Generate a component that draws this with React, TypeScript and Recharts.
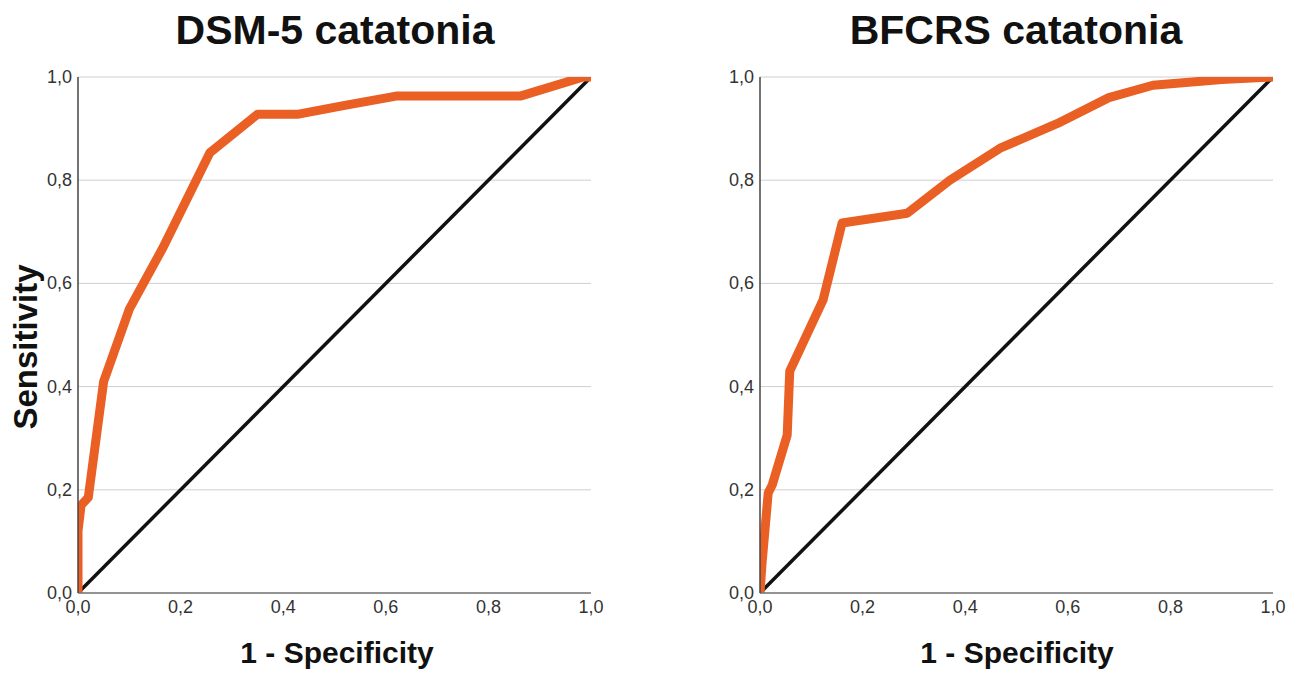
import React from 'react';
import { LineChart, Line, XAxis, YAxis, CartesianGrid } from 'recharts';

// ROC points: x = 1 - specificity, y = sensitivity
const dsmFpr = [0, 0, 0.006, 0.02, 0.05, 0.1, 0.166, 0.257, 0.35, 0.43, 0.52, 0.62, 0.862, 0.985, 1];
const dsmTpr = [0, 0.12, 0.17, 0.185, 0.41, 0.55, 0.67, 0.853, 0.928, 0.928, 0.945, 0.963, 0.963, 1, 1];

const bfcrsFpr = [0, 0.004, 0.016, 0.024, 0.053, 0.058, 0.123, 0.16, 0.287, 0.37, 0.468, 0.58, 0.68, 0.766, 0.9, 1];
const bfcrsTpr = [0, 0.058, 0.194, 0.21, 0.306, 0.43, 0.568, 0.717, 0.736, 0.8, 0.862, 0.91, 0.96, 0.984, 0.995, 1];

const refFpr = [0, 1];
const refTpr = [0, 1];

const ticks = [0, 0.2, 0.4, 0.6, 0.8, 1];

const toPoints = (xs: number[], ys: number[]) => xs.map((x, i) => ({ x, y: ys[i] }));

const fmt = (v: number) => v.toFixed(1).replace('.', ',');

const FONT = '"Liberation Sans", Arial, Helvetica, sans-serif';
const ORANGE = '#e95f24';

const XTick = (props: any) => {
    const { x, y, payload } = props;
    return (
        <text x={x} y={y + 18} textAnchor="middle" fill="#333" fontSize={18} fontFamily={FONT}>
            {fmt(payload.value)}
        </text>
    );
};

const YTick = (props: any) => {
    const { x, y, payload } = props;
    return (
        <text x={x + 2} y={y + 6} textAnchor="end" fill="#333" fontSize={18} fontFamily={FONT}>
            {fmt(payload.value)}
        </text>
    );
};

const RocPanel = ({ fpr, tpr, width, right }: { fpr: number[]; tpr: number[]; width: number; right: number }) => (
    <LineChart width={width} height={673} margin={{ top: 77, right, left: 0, bottom: 50 }}>
        <CartesianGrid vertical={false} stroke="#cfcfcf" strokeWidth={1} />
        <XAxis
            type="number"
            dataKey="x"
            domain={[0, 1]}
            ticks={ticks}
            tickLine={false}
            tickSize={0}
            height={30}
            axisLine={{ stroke: '#777', strokeWidth: 1.5 }}
            tick={<XTick />}
            allowDataOverflow
        />
        <YAxis
            type="number"
            dataKey="y"
            domain={[0, 1]}
            ticks={ticks}
            tickLine={false}
            tickSize={6}
            width={78}
            axisLine={{ stroke: '#444', strokeWidth: 1.5 }}
            tick={<YTick />}
            allowDataOverflow
        />
        <Line
            data={toPoints(refFpr, refTpr)}
            dataKey="y"
            type="linear"
            stroke="#111"
            strokeWidth={3.5}
            dot={false}
            isAnimationActive={false}
        />
        <Line
            data={toPoints(fpr, tpr)}
            dataKey="y"
            type="linear"
            stroke={ORANGE}
            strokeWidth={9}
            strokeLinejoin="round"
            dot={false}
            isAnimationActive={false}
        />
    </LineChart>
);

const textStyle: React.CSSProperties = {
    position: 'absolute',
    fontFamily: FONT,
    fontWeight: 'bold',
    color: '#111',
    whiteSpace: 'nowrap',
    transform: 'translate(-50%, -50%)',
};

export default function App() {
    return (
        <div style={{ position: 'absolute', left: 0, top: 0, width: 1295, height: 673, background: '#fff', overflow: 'hidden' }}>
            <div style={{ position: 'absolute', left: 0, top: 0 }}>
                <RocPanel fpr={dsmFpr} tpr={dsmTpr} width={640} right={49} />
            </div>
            <div style={{ position: 'absolute', left: 682, top: 0 }}>
                <RocPanel fpr={bfcrsFpr} tpr={bfcrsTpr} width={613} right={22} />
            </div>

            <div style={{ ...textStyle, left: 335, top: 30, fontSize: 41 }}>DSM-5 catatonia</div>
            <div style={{ ...textStyle, left: 1016, top: 30, fontSize: 41 }}>BFCRS catatonia</div>

            <div style={{ ...textStyle, left: 337, top: 653, fontSize: 30 }}>1 - Specificity</div>
            <div style={{ ...textStyle, left: 1017, top: 653, fontSize: 30 }}>1 - Specificity</div>

            <div style={{ ...textStyle, left: 26, top: 347, fontSize: 33, transform: 'translate(-50%, -50%) rotate(-90deg)' }}>
                Sensitivity
            </div>
        </div>
    );
}
